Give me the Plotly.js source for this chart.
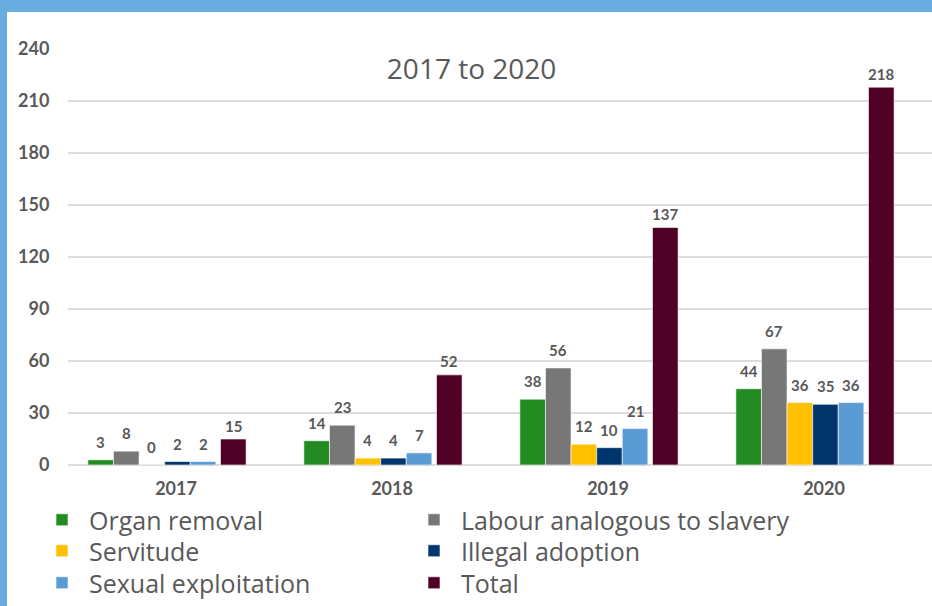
<!DOCTYPE html>
<html>
<head>
<meta charset="utf-8">
<script src="https://cdn.plot.ly/plotly-3.0.1.min.js"></script>
<style>
  html, body { margin: 0; padding: 0; background: #fff; }
  #wrap { position: relative; width: 932px; height: 606px; overflow: hidden; }
  #chart { position: absolute; left: 0; top: 0; width: 932px; height: 606px; }
  .band { position: absolute; background: #69ACE0; }
</style>
</head>
<body>
<div id="wrap">
  <div id="chart"></div>
  <div class="band" style="left:0;top:0;width:932px;height:12px;"></div>
  <div class="band" style="left:0;top:0;width:7px;height:606px;"></div>
</div>
<script>
// ---- data ----
const years = ['2017', '2018', '2019', '2020'];
const seriesNames = ['Organ removal', 'Labour analogous to slavery', 'Servitude', 'Illegal adoption', 'Sexual exploitation', 'Total'];
const organRemoval = [3, 14, 38, 44];
const labourSlavery = [8, 23, 56, 67];
const servitude = [0, 4, 12, 36];
const illegalAdoption = [2, 4, 10, 35];
const sexualExploitation = [2, 7, 21, 36];
const total = [15, 52, 137, 218];
const yTicks = [0, 30, 60, 90, 120, 150, 180, 210, 240];

// ---- style ----
const seriesValues = [organRemoval, labourSlavery, servitude, illegalAdoption, sexualExploitation, total];
const colors = ['#228B22', '#777777', '#FFC000', '#00366B', '#5B9BD5', '#4E0025'];
const barOffsets = [-0.408, -0.2895, -0.171, -0.0525, 0.066, 0.206];
const barWidth = 0.1185;
const labelShift = [7, 7, 7, 7, 7, 2.5];
const legendIds = ['legend', 'legend', 'legend2', 'legend2', 'legend3', 'legend3'];
const legendEntryWidths = [313, 420, 313, 420, 313, 420];
const legendRowsY = [520, 551, 583];
const textColor = '#595959';

const traces = seriesValues.map((vals, i) => ({
  type: 'bar',
  name: seriesNames[i],
  x: years,
  y: vals,
  offset: barOffsets[i],
  width: barWidth,
  legend: legendIds[i],
  legendwidth: legendEntryWidths[i],
  marker: { color: colors[i], line: { color: 'rgba(255,255,255,0.6)', width: 1 } },
  hoverinfo: 'x+y+name'
}));

const annotations = [];
seriesValues.forEach((vals, i) => {
  vals.forEach((v, j) => {
    annotations.push({
      x: j + barOffsets[i] + barWidth / 2,
      y: v,
      xref: 'x', yref: 'y',
      text: String(v),
      showarrow: false,
      yanchor: 'bottom',
      xanchor: 'center',
      yshift: labelShift[i],
      font: { family: 'Lato, sans-serif', size: 15, color: textColor, weight: 'bold' }
    });
  });
});

function legendCfg(rowY) {
  return {
    orientation: 'h',
    xref: 'container', yref: 'container',
    x: 35 / 932, xanchor: 'left',
    y: 1 - rowY / 606, yanchor: 'middle',
    entrywidth: 313, entrywidthmode: 'pixels',
    itemwidth: 44,
    font: { family: 'Open Sans, sans-serif', size: 25, color: textColor },
    traceorder: 'normal',
    bgcolor: 'rgba(0,0,0,0)',
    borderwidth: 0
  };
}

const layout = {
  width: 932,
  height: 606,
  margin: { l: 68, r: 0, t: 49, b: 141 },
  paper_bgcolor: '#ffffff',
  plot_bgcolor: '#ffffff',
  barmode: 'overlay',
  title: {
    text: '2017 to 2020',
    font: { family: 'Open Sans, sans-serif', size: 28, color: textColor },
    x: 0.506, xanchor: 'center',
    y: 1 - 69 / 606, yanchor: 'middle'
  },
  xaxis: {
    type: 'category',
    tickfont: { family: 'Lato, sans-serif', size: 18, color: textColor, weight: 'bold' },
    ticks: 'outside', ticklen: 7, tickcolor: 'rgba(0,0,0,0)',
    showline: false,
    showgrid: false,
    fixedrange: true
  },
  yaxis: {
    range: [0, 240],
    tickvals: yTicks,
    ticktext: yTicks.map(String),
    tickfont: { family: 'Lato, sans-serif', size: 18, color: textColor, weight: 'bold' },
    ticks: 'outside', ticklen: 14, tickcolor: 'rgba(0,0,0,0)',
    gridcolor: '#DCDCDC', gridwidth: 1.5,
    zeroline: true, zerolinecolor: '#DCDCDC', zerolinewidth: 1.5,
    showline: false,
    fixedrange: true
  },
  showlegend: true,
  legend: legendCfg(legendRowsY[0]),
  legend2: legendCfg(legendRowsY[1]),
  legend3: legendCfg(legendRowsY[2]),
  annotations: annotations
};

Plotly.newPlot('chart', traces, layout, { displayModeBar: false, staticPlot: true });
</script>
</body>
</html>
